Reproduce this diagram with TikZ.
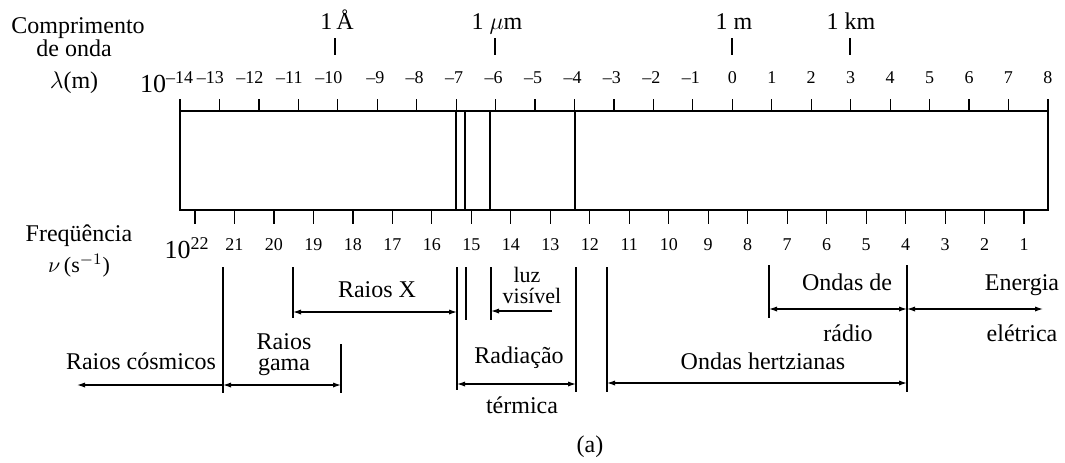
\documentclass[tikz,border=0pt]{standalone}
\usepackage{fontspec}
\setmainfont{Liberation Serif}
\usetikzlibrary{arrows.meta}

\begin{document}
\begin{tikzpicture}[x=0.5pt, y=-0.5pt, line width=0.6pt,
  lbl/.style={font=\fontsize{12}{12}\selectfont, inner sep=0pt, anchor=base},
  num/.style={font=\fontsize{9}{9}\selectfont, inner sep=0pt, anchor=base},
  arr/.style={-{Latex[length=4pt,width=2.6pt]}},
  darr/.style={{Latex[length=4pt,width=2.6pt]}-{Latex[length=4pt,width=2.6pt]}}]
\useasboundingbox (0,0) rectangle (1065,462);
\node[lbl] (cmp) at (78,33) {Comprimento};
\node[lbl] (onda) at (74,56) {de onda};
\node[lbl] (lam) at (74,88) {$\lambda$(m)};
\node[lbl] (frq) at (79,241) {Freqüência};
\node[lbl, font=\fontsize{11}{11}\selectfont] (nu) at (79,272) {$\nu$\,(s$^{-1}$)};
\foreach \x/\t [count=\i] in {337/1\,Å, 497/1 $\mu$m, 734/1 m, 851/1 km} {
  \node[lbl] (mk\i) at (\x,29) {\t};
}
\foreach \x in {335,495,732,850} \draw (\x,38) -- (\x,55);
\draw (180,111) rectangle (1048,210);
\foreach \x in {456,465,490,575} \draw (\x,111) -- (\x,210);
\foreach \e in {-14,...,8} \draw ({180+39.45*(\e+14)},99) -- ++(0,12);
\node[lbl, font=\fontsize{13}{13}\selectfont] (w14) at (167,92) {10\textsuperscript{\fontsize{9}{9}\selectfont –14}};
\foreach \n in {13,...,10} \node[num] (wm\n) at ({171+39.45*(14-\n)},83) {–\n};
\foreach \n in {9,...,1} \node[num] (wm\n) at ({178+39.45*(14-\n)},83) {–\n};
\foreach \n in {0,...,8} \node[num] (wp\n) at ({180+39.45*(\n+14)},83) {\n};
\foreach \f in {1,...,22} \draw ({195+39.48*(22-\f)},210) -- ++(0,14);
\node[lbl, font=\fontsize{13}{13}\selectfont] (f22) at (187,258) {10\textsuperscript{\fontsize{9}{9}\selectfont 22}};
\foreach \f in {1,...,21} \node[num] (f\f) at ({195+39.48*(22-\f)},250) {\f};
\foreach \x/\a/\b in {223/267/393, 293/267/318, 341/344/393, 457/267/390, 466/267/320,
  491/267/320, 576/267/392, 607/267/392, 769/265/318, 907/265/392} \draw (\x,\a) -- (\x,\b);
\coordinate (cosL) at (77,385);
\coordinate (cosR) at (223,385);
\coordinate (gamR) at (341,385);
\coordinate (xL) at (293,312);
\coordinate (xR) at (457,312);
\coordinate (luzL) at (491,311);
\coordinate (luzR) at (552,311);
\coordinate (terL) at (457,384);
\coordinate (terR) at (576,384);
\coordinate (herL) at (607,383);
\coordinate (herR) at (907,383);
\coordinate (radL) at (769,309);
\coordinate (radR) at (907,309);
\coordinate (eneR) at (1043,309);
\node[lbl] (cos) at (141,369) {Raios cósmicos};
\node[lbl] (gam1) at (284,349) {Raios};
\node[lbl] (gam2) at (284,370) {gama};
\node[lbl] (rx) at (377,297) {Raios X};
\node[lbl, font=\fontsize{11}{11}\selectfont] (luz1) at (527,282) {luz};
\node[lbl, font=\fontsize{11}{11}\selectfont] (luz2) at (532,303) {visível};
\node[lbl] (ter1) at (519,363) {Radiação};
\node[lbl] (ter2) at (522,413) {térmica};
\node[lbl] (her) at (763,369) {Ondas hertzianas};
\node[lbl] (rad1) at (847,290) {Ondas de};
\node[lbl] (rad2) at (848,341) {rádio};
\node[lbl] (ene1) at (1022,290) {Energia};
\node[lbl] (ene2) at (1022,341) {elétrica};
\node[lbl, anchor=center] (cap) at (590,447) {(a)};
\draw[arr] (cosR) -- (cosL);
\draw[darr] (cosR) -- (gamR);
\draw[darr] (xL) -- (xR);
\draw[arr] (luzR) -- (luzL);
\draw[darr] (terL) -- (terR);
\draw[darr] (herL) -- (herR);
\draw[darr] (radL) -- (radR);
\draw[darr] (radR) -- (eneR);
\end{tikzpicture}
\end{document}
